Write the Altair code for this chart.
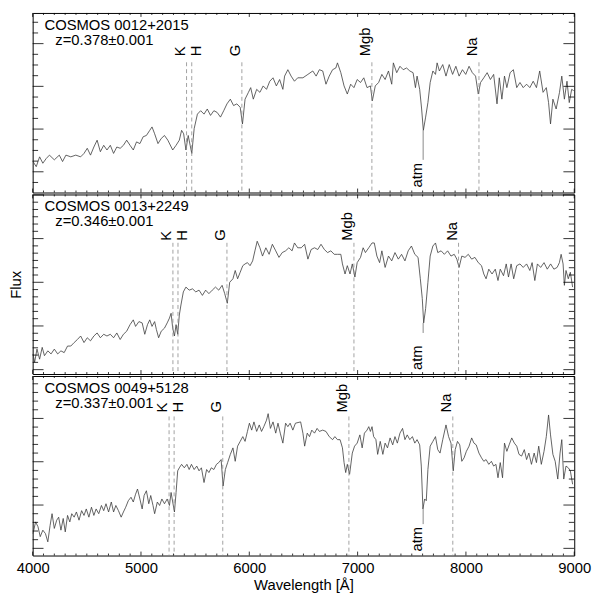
import altair as alt
import numpy as np
import pandas as pd

FONT = "Liberation Sans"
W, H = 549, 182

# ---------------- data ----------------
names = ["COSMOS 0012+2015", "COSMOS 0013+2249", "COSMOS 0049+5128"]
z_labels = ["z=0.378\u00b10.001", "z=0.346\u00b10.001", "z=0.337\u00b10.001"]
redshifts = [0.378, 0.346, 0.337]
line_names = ["K", "H", "G", "Mgb", "Na"]
line_rest = [3933.7, 3968.5, 4304.4, 5175.4, 5892.9]
atm_wl = 7605
x_major = [4000, 5000, 6000, 7000, 8000, 9000]

wl_1 = [4003, 4033, 4064, 4094, 4125, 4155, 4200, 4246, 4276, 4307,
        4352, 4398, 4443, 4474, 4504, 4534, 4565, 4595, 4625, 4656,
        4686, 4717, 4747, 4777, 4808, 4838, 4868, 4899, 4929, 4959,
        4990, 5020, 5050, 5081, 5102, 5126, 5157, 5187, 5217, 5248,
        5293, 5324, 5354, 5375, 5394, 5415, 5436, 5454, 5469, 5491,
        5521, 5551, 5582, 5612, 5642, 5673, 5703, 5734, 5764, 5794,
        5825, 5855, 5885, 5916, 5937, 5961, 5992, 6013, 6037, 6068,
        6098, 6128, 6159, 6189, 6219, 6250, 6280, 6310, 6326, 6356,
        6386, 6417, 6447, 6495, 6541, 6586, 6617, 6647, 6678, 6708,
        6738, 6769, 6799, 6814, 6845, 6875, 6905, 6936, 6966, 6996,
        7027, 7057, 7087, 7118, 7136, 7163, 7194, 7224, 7254, 7285,
        7315, 7330, 7361, 7391, 7421, 7452, 7482, 7512, 7534, 7549,
        7573, 7591, 7607, 7628, 7649, 7670, 7695, 7719, 7734, 7755,
        7786, 7816, 7846, 7877, 7907, 7937, 7968, 7998, 8029, 8059,
        8089, 8114, 8135, 8165, 8196, 8226, 8256, 8287, 8308, 8332,
        8356, 8378, 8408, 8438, 8469, 8499, 8529, 8560, 8590, 8621,
        8651, 8681, 8712, 8742, 8763, 8781, 8803, 8833, 8864, 8885,
        8909, 8933, 8954, 8976, 8995]
flux_1 = [1.24, 1.12, 1.35, 1.20, 1.31, 1.39, 1.28, 1.39, 1.24, 1.39,
          1.35, 1.39, 1.35, 1.43, 1.55, 1.39, 1.58, 1.74, 1.47, 1.62,
          1.51, 1.62, 1.43, 1.58, 1.55, 1.62, 1.74, 1.62, 1.51, 1.70,
          1.66, 1.82, 1.85, 1.97, 2.05, 1.89, 1.66, 1.78, 1.85, 1.74,
          1.51, 1.62, 1.74, 1.97, 1.89, 1.51, 1.85, 1.62, 1.43, 2.01,
          2.35, 2.43, 2.35, 2.47, 2.32, 2.43, 2.39, 2.28, 2.43, 2.59,
          2.70, 2.55, 2.59, 2.51, 2.12, 2.70, 2.86, 2.97, 2.70, 2.93,
          2.86, 3.01, 2.93, 3.12, 3.20, 3.01, 3.16, 2.93, 3.24, 3.39,
          3.24, 3.12, 3.20, 3.20, 3.28, 3.36, 3.24, 3.39, 3.36, 3.05,
          3.24, 3.39, 3.43, 3.55, 3.32, 3.01, 2.82, 3.05, 2.97, 3.16,
          3.09, 3.20, 2.97, 3.01, 2.66, 3.01, 3.09, 3.28, 3.16, 3.36,
          3.05, 3.55, 3.32, 3.47, 3.39, 3.43, 3.36, 3.32, 2.97, 3.24,
          2.93, 2.47, 1.97, 2.28, 2.62, 3.09, 3.36, 3.28, 3.55, 3.36,
          3.51, 3.24, 3.51, 3.28, 3.47, 3.24, 3.39, 3.28, 3.47, 3.32,
          3.24, 2.82, 3.09, 3.20, 3.32, 3.16, 3.28, 2.59, 3.20, 2.70,
          3.24, 2.97, 3.32, 3.39, 2.97, 3.09, 2.97, 3.05, 2.97, 3.12,
          2.97, 3.36, 2.86, 2.97, 2.62, 2.12, 2.70, 2.47, 2.86, 3.24,
          2.70, 3.12, 2.62, 2.93, 2.90]

wl_2 = [4003, 4018, 4040, 4064, 4088, 4109, 4140, 4170, 4200, 4231,
        4261, 4291, 4322, 4352, 4383, 4413, 4443, 4474, 4504, 4534,
        4565, 4595, 4625, 4656, 4686, 4717, 4747, 4777, 4808, 4838,
        4868, 4899, 4929, 4950, 4981, 5011, 5035, 5060, 5081, 5102,
        5126, 5142, 5163, 5187, 5217, 5242, 5263, 5278, 5293, 5309,
        5324, 5339, 5354, 5369, 5391, 5415, 5445, 5476, 5506, 5536,
        5567, 5597, 5627, 5658, 5688, 5718, 5749, 5773, 5797, 5819,
        5849, 5870, 5892, 5916, 5940, 5961, 5983, 6007, 6031, 6052,
        6073, 6098, 6122, 6153, 6183, 6213, 6244, 6274, 6304, 6335,
        6365, 6395, 6417, 6447, 6480, 6511, 6541, 6571, 6602, 6632,
        6662, 6693, 6723, 6753, 6784, 6814, 6845, 6860, 6884, 6905,
        6930, 6951, 6975, 6996, 7027, 7051, 7072, 7103, 7133, 7154,
        7178, 7203, 7224, 7254, 7285, 7315, 7345, 7376, 7406, 7437,
        7467, 7497, 7528, 7558, 7579, 7597, 7610, 7628, 7649, 7670,
        7695, 7719, 7740, 7771, 7801, 7831, 7862, 7892, 7916, 7937,
        7962, 7992, 8022, 8053, 8083, 8114, 8144, 8165, 8186, 8211,
        8241, 8271, 8296, 8317, 8347, 8372, 8393, 8417, 8441, 8469,
        8499, 8529, 8560, 8590, 8611, 8636, 8660, 8690, 8721, 8751,
        8782, 8812, 8842, 8863, 8879, 8897, 8909, 8924, 8945, 8964,
        8985]
flux_2 = [1.36, 1.17, 1.47, 1.24, 1.51, 1.32, 1.43, 1.36, 1.47, 1.36,
          1.43, 1.39, 1.54, 1.54, 1.62, 1.69, 1.77, 1.62, 1.73, 1.66,
          1.77, 1.84, 1.73, 1.81, 1.77, 1.81, 1.73, 1.84, 1.69, 1.81,
          1.88, 2.03, 2.14, 1.99, 2.10, 2.07, 1.81, 2.03, 2.14, 1.99,
          2.10, 1.92, 1.73, 1.88, 1.95, 2.07, 2.18, 2.29, 1.95, 1.77,
          2.03, 1.81, 2.25, 2.48, 2.78, 2.89, 2.82, 2.85, 2.78, 2.82,
          2.70, 2.82, 2.74, 2.82, 2.89, 2.82, 2.93, 2.74, 2.52, 3.00,
          3.08, 3.27, 3.08, 3.23, 3.38, 3.42, 3.45, 3.38, 3.49, 3.72,
          3.94, 3.79, 3.60, 3.79, 3.64, 3.87, 3.72, 3.57, 3.68, 3.72,
          3.79, 3.72, 3.90, 3.79, 3.79, 3.87, 3.53, 3.75, 3.79, 3.75,
          3.87, 3.75, 3.68, 3.72, 3.64, 3.64, 3.64, 3.42, 3.19, 3.38,
          3.19, 3.42, 3.12, 3.45, 3.57, 3.79, 3.68, 3.79, 3.90, 3.90,
          3.60, 3.45, 3.72, 3.34, 3.60, 3.49, 3.68, 3.53, 3.64, 3.49,
          3.72, 3.83, 3.64, 3.57, 3.08, 2.63, 2.07, 2.40, 3.00, 3.60,
          3.83, 3.90, 3.68, 3.72, 3.64, 3.72, 3.60, 3.64, 3.53, 3.34,
          3.60, 3.57, 3.64, 3.53, 3.57, 3.45, 3.38, 3.19, 3.08, 3.30,
          3.19, 3.30, 3.04, 3.30, 3.15, 3.42, 3.12, 3.42, 3.08, 3.38,
          3.42, 3.34, 3.42, 3.27, 3.45, 3.04, 3.42, 3.34, 3.45, 3.30,
          3.42, 3.30, 3.34, 3.45, 3.64, 3.42, 2.93, 3.27, 3.08, 3.23,
          2.89]

wl_3 = [4003, 4027, 4049, 4070, 4094, 4118, 4140, 4161, 4179, 4200,
        4222, 4240, 4261, 4282, 4301, 4322, 4343, 4361, 4383, 4404,
        4428, 4452, 4474, 4495, 4519, 4543, 4565, 4586, 4610, 4635,
        4656, 4677, 4701, 4726, 4747, 4768, 4792, 4817, 4838, 4859,
        4883, 4908, 4929, 4950, 4968, 4990, 5011, 5029, 5050, 5072,
        5090, 5111, 5126, 5151, 5172, 5193, 5217, 5242, 5263, 5278,
        5293, 5309, 5324, 5339, 5354, 5375, 5400, 5424, 5445, 5466,
        5491, 5515, 5536, 5558, 5582, 5606, 5627, 5649, 5673, 5697,
        5718, 5740, 5758, 5779, 5800, 5825, 5849, 5870, 5892, 5916,
        5940, 5961, 5983, 6001, 6022, 6043, 6068, 6092, 6113, 6134,
        6159, 6174, 6195, 6219, 6244, 6265, 6286, 6310, 6335, 6356,
        6377, 6402, 6426, 6474, 6495, 6511, 6535, 6556, 6577, 6602,
        6626, 6647, 6678, 6708, 6738, 6769, 6790, 6814, 6838, 6860,
        6875, 6890, 6905, 6926, 6951, 6972, 6996, 7021, 7042, 7063,
        7087, 7103, 7118, 7133, 7148, 7169, 7185, 7209, 7233, 7254,
        7276, 7300, 7324, 7345, 7367, 7391, 7415, 7437, 7458, 7482,
        7506, 7528, 7549, 7573, 7588, 7603, 7619, 7634, 7649, 7670,
        7695, 7719, 7740, 7761, 7786, 7816, 7840, 7862, 7883, 7901,
        7922, 7943, 7962, 7983, 8004, 8029, 8053, 8074, 8095, 8120,
        8144, 8165, 8186, 8211, 8235, 8256, 8277, 8296, 8317, 8338,
        8356, 8378, 8399, 8423, 8447, 8469, 8490, 8514, 8539, 8560,
        8581, 8605, 8630, 8651, 8672, 8696, 8721, 8742, 8763, 8781,
        8803, 8824, 8848, 8869, 8885, 8903, 8924, 8945, 8964, 8985]
flux_3 = [1.34, 1.61, 1.50, 1.27, 1.42, 1.34, 1.15, 1.53, 1.80, 1.46,
          1.65, 1.72, 1.42, 1.69, 1.38, 1.76, 1.61, 1.80, 1.72, 1.84,
          1.65, 1.87, 1.76, 1.91, 1.72, 1.95, 1.76, 1.91, 1.80, 1.99,
          1.87, 2.03, 1.84, 2.07, 1.84, 1.99, 1.87, 1.72, 1.84, 1.95,
          2.10, 2.18, 2.07, 2.25, 2.37, 2.14, 1.91, 2.22, 2.33, 2.03,
          2.22, 1.99, 1.80, 2.07, 1.99, 2.14, 2.03, 2.14, 1.99, 2.29,
          2.07, 1.84, 2.29, 2.79, 2.86, 2.94, 2.86, 2.94, 2.82, 2.94,
          2.82, 2.90, 2.79, 2.86, 2.52, 2.82, 2.75, 2.86, 2.82, 2.94,
          2.98, 3.05, 2.44, 2.82, 2.98, 3.17, 3.32, 3.01, 3.36, 3.47,
          3.58, 3.47, 3.70, 3.89, 3.73, 3.92, 3.70, 3.85, 3.70, 3.81,
          3.96, 4.11, 3.77, 3.92, 3.66, 3.89, 3.66, 3.43, 3.89, 3.81,
          3.89, 3.73, 3.89, 3.92, 3.66, 3.36, 3.66, 3.58, 3.73, 3.66,
          3.77, 3.70, 3.73, 3.70, 3.58, 3.51, 3.58, 3.51, 3.51, 3.32,
          2.98, 2.75, 2.94, 2.71, 3.20, 3.36, 3.43, 3.62, 3.32, 3.66,
          3.73, 3.81, 3.70, 3.81, 3.58, 3.51, 3.17, 3.47, 3.17, 3.43,
          3.32, 3.55, 3.39, 3.58, 3.43, 3.66, 3.77, 3.51, 3.62, 3.51,
          3.58, 3.43, 3.51, 3.39, 2.90, 1.91, 2.14, 2.10, 2.82, 3.36,
          3.47, 3.58, 3.28, 3.20, 3.51, 3.85, 3.58, 3.43, 2.79, 3.28,
          3.47, 3.39, 3.01, 3.09, 3.24, 3.36, 3.55, 3.43, 3.39, 3.20,
          3.09, 3.01, 3.05, 2.94, 3.01, 2.90, 2.94, 2.63, 2.98, 2.63,
          3.43, 3.24, 3.39, 3.55, 3.43, 3.36, 3.17, 3.13, 3.28, 3.05,
          3.20, 2.94, 3.20, 2.98, 3.36, 2.94, 3.24, 3.58, 4.08, 3.62,
          3.17, 3.01, 2.60, 3.20, 3.51, 2.60, 2.90, 2.86, 2.79, 2.48]

spectra = [(wl_1, flux_1), (wl_2, flux_2), (wl_3, flux_3)]

# ---------------- per-panel layout settings ----------------
y_domains = [[0.515, 4.718], [0.90, 5.01], [0.834, 4.98]]
y_minor_n = [4, 6, 5]          # minor intervals per major
label_y = [44, 47, 37]         # px below panel top (start of rotated labels)
dash_y = [50, 49, 41]          # px below panel top (start of dashed lines)
atm_low = [1.28, 1.84, 1.56]   # lower end of the atm pointer (flux units)
atm_text_y = [177, 178, 178]

SPEC_COLOR = "#3c3c3c"
DASH_COLOR = "#8a8a8a"

xs = alt.Scale(domain=[4000, 9000], nice=False, zero=False)


def tick_layers(ys, lo, hi, n):
    layers = []
    x_minor = [v for v in range(4100, 9000, 100) if v % 1000]
    for vals, ln in ((x_major, 4), (x_minor, 2)):
        df = pd.DataFrame({"t": vals})
        xe = alt.X("t:Q", scale=xs, axis=None)
        layers.append(alt.Chart(df).mark_rule(color="black", strokeWidth=0.8).encode(
            x=xe, y=alt.value(H), y2=alt.value(H - ln)))
        layers.append(alt.Chart(df).mark_rule(color="black", strokeWidth=0.8).encode(
            x=xe, y=alt.value(0), y2=alt.value(ln)))
    step = 1.0 / n
    ks = range(int(np.ceil(lo / step)), int(np.floor(hi / step)) + 1)
    y_maj = [round(k * step, 4) for k in ks if k % n == 0]
    y_min = [round(k * step, 4) for k in ks if k % n != 0]
    for vals, ln in ((y_maj, 11), (y_min, 5.5)):
        df = pd.DataFrame({"t": vals})
        ye = alt.Y("t:Q", scale=ys, axis=None)
        layers.append(alt.Chart(df).mark_rule(color="black", strokeWidth=0.8).encode(
            y=ye, x=alt.value(0), x2=alt.value(ln)))
        layers.append(alt.Chart(df).mark_rule(color="black", strokeWidth=0.8).encode(
            y=ye, x=alt.value(W), x2=alt.value(W - ln)))
    return layers


def panel(i):
    wl, fl = spectra[i]
    z = redshifts[i]
    lo, hi = y_domains[i]
    ys = alt.Scale(domain=[lo, hi], nice=False, zero=False)

    if i == 2:
        xaxis = alt.Axis(values=x_major, format="d", ticks=False, domain=False, grid=False,
                         labelFlush=False, labelFont=FONT, labelFontSize=15, labelColor="black",
                         labelPadding=5, titleFont=FONT, titleFontSize=15,
                         titleFontWeight="normal", titleColor="black",
                         titleBaseline="alphabetic", titleY=34, orient="bottom")
    else:
        xaxis = None
    if i == 1:
        yaxis = alt.Axis(labels=False, ticks=False, domain=False, grid=False,
                         titleFont=FONT, titleFontSize=15, titleFontWeight="normal",
                         titleColor="black", titleBaseline="alphabetic", titleAngle=270,
                         titleX=-12, orient="left")
    else:
        yaxis = None

    spec = pd.DataFrame({"wl": wl, "flux": fl})
    layers = []
    layers.append(alt.Chart(spec).mark_line(color=SPEC_COLOR, strokeWidth=0.8).encode(
        x=alt.X("wl:Q", scale=xs, axis=xaxis, title="Wavelength [\u00c5]"),
        y=alt.Y("flux:Q", scale=ys, axis=yaxis, title="Flux"),
        order="wl:Q"))

    obs = pd.DataFrame({"wl": [round(r * (1 + z), 1) for r in line_rest], "name": line_names})
    xe = alt.X("wl:Q", scale=xs, axis=None)
    layers.append(alt.Chart(obs).mark_rule(color=DASH_COLOR, strokeWidth=0.8,
                                           strokeDash=[4, 3]).encode(
        x=xe, y=alt.value(dash_y[i]), y2=alt.value(H)))
    layers.append(alt.Chart(obs[obs["name"] != "H"]).mark_text(
        angle=270, align="left", baseline="alphabetic", font=FONT, fontSize=15,
        color="black", dy=-2).encode(x=xe, y=alt.value(label_y[i]), text="name:N"))
    layers.append(alt.Chart(obs[obs["name"] == "H"]).mark_text(
        angle=270, align="left", baseline="alphabetic", font=FONT, fontSize=15,
        color="black", dy=9).encode(x=xe, y=alt.value(label_y[i]), text="name:N"))

    near = [f for w, f in zip(wl, fl) if 7580 <= w <= 7640]
    atm = pd.DataFrame({"wl": [atm_wl], "top": [min(near)], "low": [atm_low[i]], "t": ["atm"]})
    layers.append(alt.Chart(atm).mark_rule(color="#6a6a6a", strokeWidth=0.8).encode(
        x=xe, y=alt.Y("top:Q", scale=ys, axis=None), y2="low:Q"))
    layers.append(alt.Chart(atm).mark_text(
        angle=270, align="left", baseline="alphabetic", font=FONT, fontSize=15,
        color="black", dy=-1).encode(x=xe, y=alt.value(atm_text_y[i]), text="t:N"))

    tdf = pd.DataFrame({"name": [names[i]], "zl": [z_labels[i]]})
    layers.append(alt.Chart(tdf).mark_text(
        align="left", baseline="alphabetic", font=FONT, fontSize=15, color="black").encode(
        x=alt.value(12), y=alt.value(17), text="name:N"))
    layers.append(alt.Chart(tdf).mark_text(
        align="left", baseline="alphabetic", font=FONT, fontSize=15, color="black").encode(
        x=alt.value(23), y=alt.value(32), text="zl:N"))

    layers += tick_layers(ys, lo, hi, y_minor_n[i])
    return (alt.layer(*layers)
            .resolve_axis(x="independent", y="independent")
            .properties(width=W, height=H))


chart = (
    alt.vconcat(panel(0), panel(1), panel(2), spacing=0)
    .configure_view(stroke="black", strokeWidth=1)
    .configure_concat(spacing=0)
    .properties(padding={"left": 0, "top": 0, "right": 0, "bottom": 0}, background="white")
)

chart.save("out.html", embed_options={"renderer": "svg", "actions": False})
